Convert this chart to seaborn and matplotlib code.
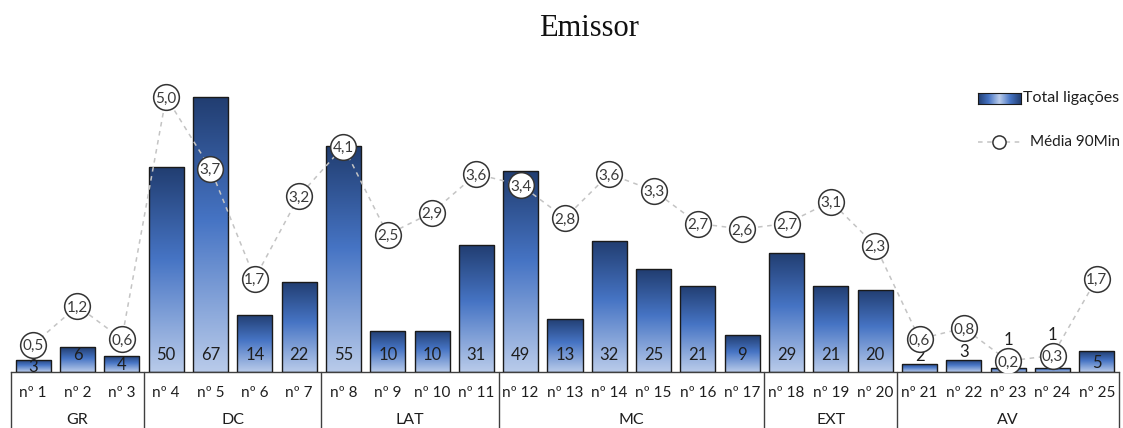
import numpy as np
import pandas as pd
import matplotlib
matplotlib.use("Agg")
import matplotlib.pyplot as plt
import matplotlib.transforms as mtransforms
from matplotlib.colors import LinearSegmentedColormap
from matplotlib.lines import Line2D
import seaborn as sns

# ---------------- data ----------------
players = [f"nº {i}" for i in range(1, 26)]
groups = ["GR", "DC", "LAT", "MC", "EXT", "AV"]
group_sizes = [3, 4, 4, 6, 3, 5]
total_ligacoes = [3, 6, 4, 50, 67, 14, 22, 55, 10, 10, 31, 49, 13, 32, 25, 21, 9,
                  29, 21, 20, 2, 3, 1, 1, 5]
media_90min = [0.5, 1.2, 0.6, 5.0, 3.7, 1.7, 3.2, 4.1, 2.5, 2.9, 3.6, 3.4, 2.8,
               3.6, 3.3, 2.7, 2.6, 2.7, 3.1, 2.3, 0.6, 0.8, 0.2, 0.3, 1.7]
# label placement style for the bar labels
label_mode = ["base"] * 20 + ["above", "above", "high", "high", "base"]

# ---------------- style ----------------
sns.set_theme(style="white")
plt.rcParams["font.family"] = ["Lato", "DejaVu Sans"]
TXT = "#1e1e1e"

W, H = 1123, 428
fig = plt.figure(figsize=(W / 100, H / 100), dpi=100)
ax_left, ax_right, ax_bottom, ax_top = 11, 1119, 372, 80
ax = fig.add_axes([ax_left / W, (H - ax_bottom) / H,
                   (ax_right - ax_left) / W, (ax_bottom - ax_top) / H])

df = pd.DataFrame({"Jogador": players, "Total": total_ligacoes})
sns.barplot(data=df, x="Jogador", y="Total", ax=ax, width=0.79,
            color="#4472c4", saturation=1, edgecolor="#1a1a1a", linewidth=1.0)

cmap = LinearSegmentedColormap.from_list(
    "bar", [(0.0, "#213d70"), (0.45, "#4674c4"), (1.0, "#b9cbea")])
grad = np.linspace(0, 1, 256).reshape(-1, 1)
for p in ax.patches:
    x0, y0 = p.get_x(), p.get_y()
    w, h = p.get_width(), p.get_height()
    im = ax.imshow(grad, cmap=cmap, aspect="auto", origin="upper",
                   extent=[x0, x0 + w, y0, y0 + h], zorder=2,
                   interpolation="bilinear")
    im.set_clip_path(p)
    p.set_facecolor("none")
    p.set_zorder(3)

ax.set_xlim(-0.5, 24.5)
ax.set_ylim(0, 71.1)
for s in ["top", "left", "right"]:
    ax.spines[s].set_visible(False)
ax.spines["bottom"].set_color("#404040")
ax.spines["bottom"].set_linewidth(1.0)
ax.set_yticks([])
ax.set_xlabel("")
ax.set_ylabel("")
ax.set_xticks(range(len(players)))
ax.set_xticklabels(players, fontsize=11, color=TXT)
ax.tick_params(axis="x", length=0, pad=10)

# group boxes
trans = mtransforms.blended_transform_factory(ax.transData, ax.transAxes)
bottom_frac = -(H - ax_bottom) / (ax_bottom - ax_top)
bounds = np.concatenate([[0], np.cumsum(group_sizes)]) - 0.5
for b in bounds:
    ax.plot([b, b], [0, bottom_frac], transform=trans, color="#404040",
            lw=1.0, clip_on=False)
for g, a, b in zip(groups, bounds[:-1], bounds[1:]):
    ax.text((a + b) / 2, -48 / (ax_bottom - ax_top), g, transform=trans,
            ha="center", va="center", fontsize=11.5, color=TXT)

# bar labels
for i, (v, mode) in enumerate(zip(total_ligacoes, label_mode)):
    if mode == "base":
        yc = 4.15 if v >= 6 else 0.42 * v
        ax.text(i, yc, str(v), ha="center", va="center", fontsize=12,
                color=TXT, zorder=5)
    elif mode == "above":
        ax.annotate(str(v), (i, v), xytext=(0, 0), textcoords="offset points",
                    ha="center", va="bottom", fontsize=12, color=TXT, zorder=5)

# line on secondary axis
ax2 = ax.twinx()
sns.lineplot(x=players, y=media_90min, ax=ax2, sort=False, color="#c4c4c4",
             linewidth=1.1, linestyle=(0, (3, 3)), marker="o", markersize=18.5,
             markerfacecolor="white", markeredgecolor="#333333",
             markeredgewidth=1.1)
ax2.set_ylim(0, 5.31)
ax2.set_xlim(-0.5, 24.5)
for s in ax2.spines.values():
    s.set_visible(False)
ax2.set_yticks([])
ax2.set_ylabel("")
for i, v in enumerate(media_90min):
    ax2.text(i, v, f"{v:.1f}".replace(".", ","), ha="center",
             va="center_baseline", fontsize=11, color="#3a3a3a", zorder=6)
for i, (v, mode) in enumerate(zip(total_ligacoes, label_mode)):
    if mode == "high":
        ax2.annotate(str(v), (i, media_90min[i]), xytext=(0, 15),
                     textcoords="offset points", ha="center", va="center",
                     fontsize=12, color=TXT, zorder=6)

# title
fig.text(589 / W, 1 - 28 / H, "Emissor", ha="center", va="center",
         fontsize=22, family="Liberation Serif", color="#111111")

# legend (manual)
lax = fig.add_axes([978 / W, (H - 104) / H, 43 / W, 11 / H])
hgrad = np.abs(np.linspace(-1, 1, 256)).reshape(1, -1)
lcmap = LinearSegmentedColormap.from_list("lg", ["#b9cbea", "#4674c4", "#213d70"])
lax.imshow(hgrad, cmap=lcmap, aspect="auto", interpolation="bilinear")
lax.set_xticks([])
lax.set_yticks([])
for s in lax.spines.values():
    s.set_color("#1a1a1a")
    s.set_linewidth(0.8)
fig.text(1023 / W, 1 - 98 / H, "Total ligações", ha="left", va="center",
         fontsize=11.5, color=TXT)
ly = 1 - 142 / H
fig.add_artist(Line2D([978 / W, 1022 / W], [ly, ly], transform=fig.transFigure,
                      color="#c4c4c4", lw=1.1, linestyle=(0, (3, 3))))
fig.add_artist(Line2D([999 / W], [ly], transform=fig.transFigure, marker="o",
                      markersize=9.5, markerfacecolor="white",
                      markeredgecolor="#333333", markeredgewidth=1.1,
                      linestyle="none"))
fig.text(1030 / W, ly, "Média 90Min", ha="left", va="center", fontsize=11,
         color=TXT)

fig.savefig("out.png", dpi=100)
